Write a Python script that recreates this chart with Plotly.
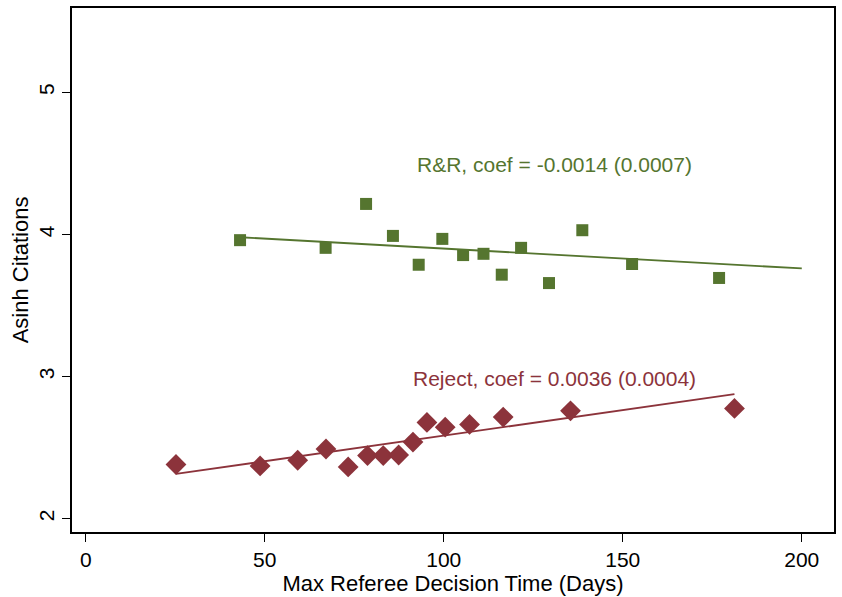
import numpy as np
import plotly.graph_objects as go

# Binned means: R&R decisions
rr_days = [43.1, 67.0, 78.3, 85.8, 93.0, 99.6, 105.4, 111.1, 116.2, 121.6, 129.4, 138.7, 152.6, 176.9]
rr_cites = [3.960, 3.906, 4.215, 3.990, 3.787, 3.969, 3.855, 3.864, 3.717, 3.906, 3.658, 4.030, 3.792, 3.694]

# Binned means: rejections
rej_days = [25.2, 48.7, 59.2, 67.1, 73.3, 78.7, 83.1, 87.4, 91.4, 95.3, 100.4, 107.2, 116.6, 135.4, 181.2]
rej_cites = [2.381, 2.371, 2.411, 2.490, 2.364, 2.444, 2.444, 2.448, 2.539, 2.677, 2.644, 2.663, 2.715, 2.759, 2.776]

# Linear fits (intercept, slope) and x-span of each fitted line
rr_fit = (4.041, -0.0014)
rr_span = [43.1, 200.0]
rej_fit = (2.224, 0.0036)
rej_span = [25.2, 181.2]

rr_label = "R&R, coef = -0.0014 (0.0007)"
rej_label = "Reject, coef = 0.0036 (0.0004)"

x_ticks = [0, 50, 100, 150, 200]
y_ticks = [2, 3, 4, 5]

GREEN = "#55752f"
RED = "#8c333b"
FONT = "Liberation Sans, Arial, Helvetica, sans-serif"


def fit_line(fit, span):
    xs = np.array(span, dtype=float)
    return xs, fit[0] + fit[1] * xs


fig = go.Figure()

rx, ry = fit_line(rr_fit, rr_span)
fig.add_trace(go.Scatter(x=rx, y=ry, mode="lines", line=dict(color=GREEN, width=1.8),
                         showlegend=False, hoverinfo="skip"))
jx, jy = fit_line(rej_fit, rej_span)
fig.add_trace(go.Scatter(x=jx, y=jy, mode="lines", line=dict(color=RED, width=1.8),
                         showlegend=False, hoverinfo="skip"))

fig.add_trace(go.Scatter(x=rr_days, y=rr_cites, mode="markers", name="R&R",
                         marker=dict(symbol="square", size=12, color=GREEN,
                                     line=dict(width=0)),
                         showlegend=False))
fig.add_trace(go.Scatter(x=rej_days, y=rej_cites, mode="markers", name="Reject",
                         marker=dict(symbol="diamond", size=16, color=RED,
                                     line=dict(width=0)),
                         showlegend=False))

fig.add_annotation(x=130.8, y=4.493, text=rr_label, showarrow=False,
                   font=dict(family=FONT, size=21, color=GREEN))
fig.add_annotation(x=130.8, y=2.988, text=rej_label, showarrow=False,
                   font=dict(family=FONT, size=21, color=RED))

fig.update_layout(
    width=842, height=597,
    margin=dict(l=72, r=6, t=6, b=65),
    paper_bgcolor="white", plot_bgcolor="white",
    font=dict(family=FONT, size=21, color="black"),
)

fig.update_xaxes(
    range=[-3.84, 209.0], tickvals=x_ticks, showgrid=False, zeroline=False,
    showline=True, linecolor="black", linewidth=1.8, mirror=True,
    ticks="outside", ticklen=8, tickwidth=1.2, tickcolor="black",
    tickfont=dict(family=FONT, size=21),
    title=dict(text="Max Referee Decision Time (Days)", standoff=0,
               font=dict(family=FONT, size=22)),
)
fig.update_yaxes(
    range=[1.906, 5.594], tickvals=y_ticks, showgrid=False, zeroline=False,
    showline=True, linecolor="black", linewidth=1.8, mirror=True,
    ticks="outside", ticklen=8, tickwidth=1.2, tickcolor="black",
    tickangle=-90, tickfont=dict(family=FONT, size=21),
    title=dict(text="Asinh Citations", standoff=0,
               font=dict(family=FONT, size=22)),
)

fig.write_html("out.html")
